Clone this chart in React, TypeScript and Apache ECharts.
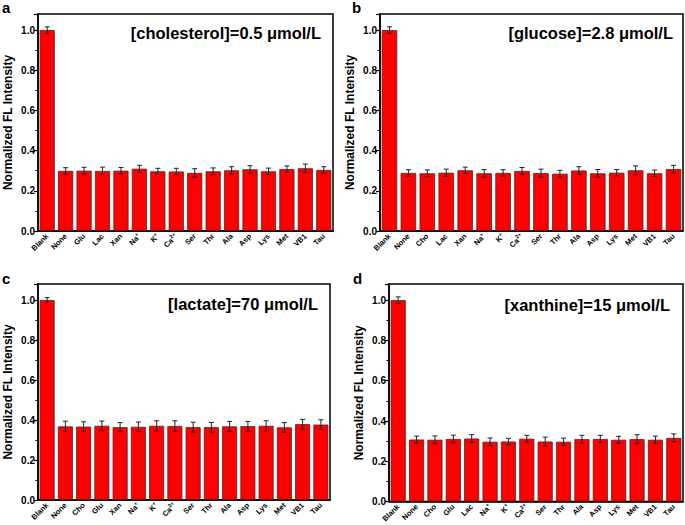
import React, { useEffect, useRef } from "react";
import * as echarts from "echarts";

const catsA = ["Blank", "None", "Glu", "Lac", "Xan", "Na+", "K+", "Ca2+", "Ser", "Thr", "Ala", "Asp", "Lys", "Met", "VB1", "Tau"];
const valsA = [1.0, 0.299, 0.3, 0.299, 0.3, 0.31, 0.297, 0.296, 0.289, 0.297, 0.302, 0.307, 0.297, 0.308, 0.312, 0.304];
const errsA = [0.016, 0.016, 0.017, 0.019, 0.016, 0.017, 0.015, 0.016, 0.021, 0.017, 0.018, 0.018, 0.016, 0.016, 0.021, 0.016];

const catsB = ["Blank", "None", "Cho", "Lac", "Xan", "Na+", "K+", "Ca2+", "Ser", "Thr", "Ala", "Asp", "Lys", "Met", "VB1", "Tau"];
const valsB = [1.0, 0.289, 0.287, 0.29, 0.302, 0.287, 0.289, 0.299, 0.288, 0.285, 0.301, 0.287, 0.29, 0.302, 0.287, 0.308];
const errsB = [0.016, 0.016, 0.017, 0.018, 0.016, 0.019, 0.016, 0.017, 0.02, 0.017, 0.019, 0.019, 0.016, 0.022, 0.016, 0.019];

const catsC = ["Blank", "None", "Cho", "Glu", "Xan", "Na+", "K+", "Ca2+", "Ser", "Thr", "Ala", "Asp", "Lys", "Met", "VB1", "Tau"];
const valsC = [1.0, 0.368, 0.367, 0.371, 0.364, 0.366, 0.371, 0.37, 0.364, 0.364, 0.368, 0.369, 0.371, 0.363, 0.379, 0.377];
const errsC = [0.012, 0.026, 0.024, 0.024, 0.023, 0.024, 0.025, 0.026, 0.025, 0.024, 0.025, 0.024, 0.025, 0.024, 0.024, 0.024];

const catsD = ["Blank", "None", "Cho", "Glu", "Lac", "Na+", "K+", "Ca2+", "Ser", "Thr", "Ala", "Asp", "Lys", "Met", "VB1", "Tau"];
const valsD = [1.0, 0.308, 0.307, 0.311, 0.313, 0.297, 0.298, 0.312, 0.298, 0.297, 0.31, 0.311, 0.307, 0.31, 0.307, 0.316];
const errsD = [0.016, 0.017, 0.019, 0.019, 0.019, 0.019, 0.016, 0.017, 0.022, 0.018, 0.019, 0.018, 0.017, 0.022, 0.018, 0.02];

const titles = ["[cholesterol]=0.5 \u03bcmol/L", "[glucose]=2.8 \u03bcmol/L", "[lactate]=70 \u03bcmol/L", "[xanthine]=15 \u03bcmol/L"];
const letters = ["a", "b", "c", "d"];

const FONT = "Liberation Sans, Arial, sans-serif";

export default function App() {
  const ref = useRef<HTMLDivElement>(null);
  useEffect(() => {
    if (!ref.current) return;
    const chart = echarts.init(ref.current, null, { renderer: "svg" });
    const panels = [
      { cats: catsA, vals: valsA, errs: errsA, grid: { left: 38, top: 14, width: 295, height: 217 }, title: [321, 33], letter: [2, 7] },
      { cats: catsB, vals: valsB, errs: errsB, grid: { left: 380, top: 14, width: 303, height: 217 }, title: [673, 33], letter: [352, 7] },
      { cats: catsC, vals: valsC, errs: errsC, grid: { left: 38, top: 284, width: 292, height: 216 }, title: [318, 304], letter: [2, 278] },
      { cats: catsD, vals: valsD, errs: errsD, grid: { left: 389, top: 284, width: 294, height: 219 }, title: [670, 305], letter: [353, 278] },
    ];
    const fmt = (v: string) => v.replace(/^(Na|K|Ca)(2?\+)$/, "$1{sup|$2}");
    const option: any = {
      animation: false,
      backgroundColor: "#ffffff",
      grid: panels.map((p) => ({ ...p.grid, show: true, borderColor: "#000", borderWidth: 1.5, backgroundColor: "transparent" })),
      xAxis: panels.map((p, i) => ({
        type: "category",
        gridIndex: i,
        data: p.cats,
        axisLine: { lineStyle: { color: "#000", width: 1.5 } },
        axisTick: { show: false },
        axisLabel: {
          rotate: 45,
          interval: 0,
          margin: 4,
          fontFamily: FONT,
          fontWeight: "bold",
          fontSize: 7.5,
          color: "#000",
          formatter: fmt,
          rich: { sup: { fontSize: 5.5, fontWeight: "bold", fontFamily: FONT, color: "#000", verticalAlign: "top", padding: [0, 0, 5, 0] } },
        },
      })),
      yAxis: panels.map((p, i) => ({
        type: "value",
        gridIndex: i,
        min: 0,
        max: 1.08,
        interval: 0.2,
        name: "Normalized FL Intensity",
        nameLocation: "middle",
        nameGap: 24,
        nameTextStyle: { fontFamily: FONT, fontWeight: "bold", fontSize: 12, color: "#000" },
        axisLine: { show: true, lineStyle: { color: "#000", width: 1.5 } },
        axisTick: { show: true, length: 4, lineStyle: { color: "#000", width: 1.2 } },
        minorTick: { show: true, splitNumber: 2, length: 2.5, lineStyle: { color: "#000", width: 1 } },
        splitLine: { show: false },
        axisLabel: {
          margin: 3,
          fontFamily: FONT,
          fontWeight: "bold",
          fontSize: 10,
          color: "#000",
          showMaxLabel: false,
          formatter: (v: number) => v.toFixed(1),
        },
      })),
      series: [
        ...panels.map((p, i) => ({
          type: "bar",
          xAxisIndex: i,
          yAxisIndex: i,
          data: p.vals,
          barCategoryGap: "18%",
          itemStyle: { color: "#ff0000", borderColor: "#5a2020", borderWidth: 0.8 },
        })),
        ...panels.map((p, i) => ({
          type: "custom",
          xAxisIndex: i,
          yAxisIndex: i,
          data: p.vals.map((v, j) => [j, v, p.errs[j]]),
          z: 10,
          renderItem: (params: any, api: any) => {
            const x = api.value(0);
            const v = api.value(1);
            const e = api.value(2);
            const hi = api.coord([x, v + e]);
            const lo = api.coord([x, v - e]);
            const hw = 2.5;
            const st = { stroke: "#222", lineWidth: 1 };
            return {
              type: "group",
              children: [
                { type: "line", shape: { x1: hi[0], y1: hi[1], x2: lo[0], y2: lo[1] }, style: st },
                { type: "line", shape: { x1: hi[0] - hw, y1: hi[1], x2: hi[0] + hw, y2: hi[1] }, style: st },
                { type: "line", shape: { x1: lo[0] - hw, y1: lo[1], x2: lo[0] + hw, y2: lo[1] }, style: st },
              ],
            };
          },
        })),
      ],
      graphic: [
        ...panels.map((p, i) => ({
          type: "text",
          x: p.title[0],
          y: p.title[1],
          style: { text: titles[i], fontFamily: FONT, fontWeight: "bold", fontSize: 16.5, fill: "#000", textAlign: "right", textVerticalAlign: "middle" },
        })),
        ...panels.map((p, i) => ({
          type: "text",
          x: p.letter[0],
          y: p.letter[1],
          style: { text: letters[i], fontFamily: FONT, fontWeight: "bold", fontSize: 15, fill: "#000", textAlign: "left", textVerticalAlign: "middle" },
        })),
      ],
    };
    chart.setOption(option);
    return () => chart.dispose();
  }, []);
  return <div ref={ref} style={{ position: "fixed", left: 0, top: 0, width: 685, height: 525 }} />;
}
